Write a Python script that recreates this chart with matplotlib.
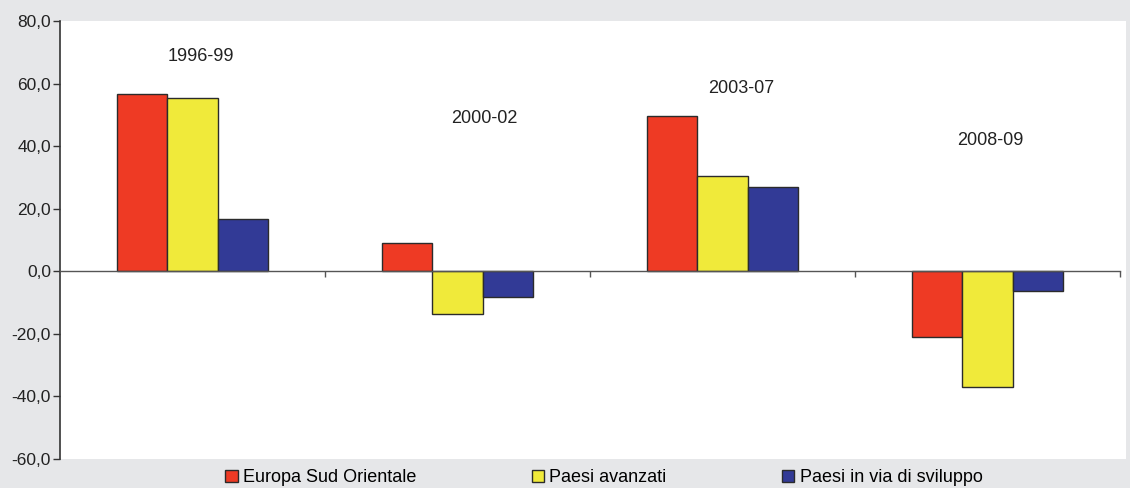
import numpy as np
import matplotlib
matplotlib.use("Agg")
import matplotlib.pyplot as plt
from matplotlib.patches import Rectangle

plt.rcParams['font.family'] = ['Liberation Sans', 'DejaVu Sans']

# periodi e tassi di crescita (%)
periods = ["1996-99", "2000-02", "2003-07", "2008-09"]
europa_so = [56.8, 9.0, 49.7, -21.0]
avanzati = [55.4, -13.7, 30.5, -37.0]
in_sviluppo = [16.6, -8.1, 27.0, -6.3]
series_names = ["Europa Sud Orientale", "Paesi avanzati", "Paesi in via di sviluppo"]
y_ticks = [-60, -40, -20, 0, 20, 40, 60, 80]

# dove stanno le etichette dei periodi (x in categorie, y in valori)
label_pos = [(0.03, 68.7), (1.10, 48.9), (2.07, 58.4), (3.01, 41.8)]

colors = ["#ee3a24", "#f0ea3a", "#323a96"]
bg = "#e6e7e9"

fig = plt.figure(figsize=(11.3, 4.88), dpi=100, facecolor=bg)
# il riquadro bianco sborda un po' a destra dell'asse
fig.patches.append(Rectangle((60 / 1130, 29 / 488), 1066 / 1130, (488 - 20.5 - 29) / 488,
                             transform=fig.transFigure, facecolor="white",
                             edgecolor="none", zorder=0))
ax = fig.add_axes([60 / 1130, 1 - 459 / 488, 1060 / 1130, 438 / 488])
ax.set_zorder(2)
ax.set_facecolor("white")

x = np.arange(len(periods))
w = 0.19
for i, (vals, name) in enumerate(zip([europa_so, avanzati, in_sviluppo], series_names)):
    ax.bar(x + (i - 1) * w, vals, width=w, color=colors[i], edgecolor="#2b2b2b",
           linewidth=1.0, label=name, zorder=3)

for txt, (px, py) in zip(periods, label_pos):
    ax.text(px, py, txt, ha="center", va="center", fontsize=13, color="#222222")

ax.set_xlim(-0.5, len(periods) - 0.5)
ax.set_ylim(-60, 80)
ax.set_yticks(y_ticks)
ax.set_yticklabels([f"{v:.1f}".replace(".", ",") for v in y_ticks], fontsize=12.5, color="#222222")
ax.set_xticks(list(x + 0.5))
ax.set_xticklabels([])

for s in ["top", "right"]:
    ax.spines[s].set_visible(False)
ax.spines["bottom"].set_position(("data", 0))
ax.spines["bottom"].set_color("#555555")
ax.spines["bottom"].set_linewidth(1.0)
ax.spines["bottom"].set_zorder(4)
ax.spines["left"].set_color("#333333")
ax.spines["left"].set_linewidth(1.2)
ax.tick_params(axis="x", direction="out", length=4, width=1, color="#555555")
ax.tick_params(axis="y", direction="out", length=5, width=1, color="#333333", pad=1.5)

fig.legend(loc="center", bbox_to_anchor=(604 / 1130, 1 - 478 / 488), ncol=3,
           frameon=False, fontsize=13, handlelength=0.67, handleheight=0.67,
           handletextpad=0.3, columnspacing=6.4, borderpad=0, borderaxespad=0)

fig.savefig("out.png", dpi=100, facecolor=bg)
